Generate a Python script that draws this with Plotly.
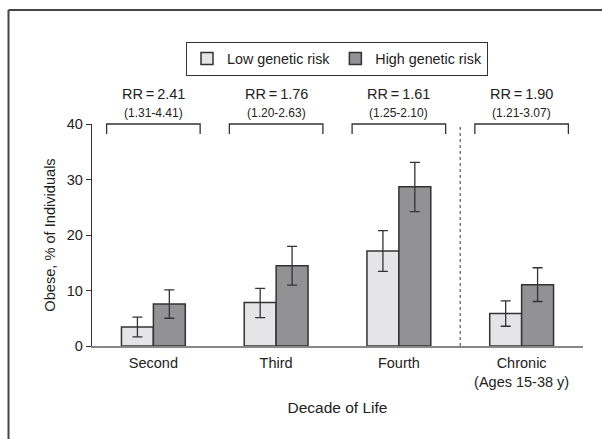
import plotly.graph_objects as go

categories = ["Second", "Third", "Fourth", "Chronic<br>(Ages 15-38 y)"]
low_vals = [3.43, 7.84, 17.1, 5.85]
low_err_plus = [1.76, 2.56, 3.7, 2.28]
low_err_minus = [1.80, 2.71, 3.66, 2.29]
high_vals = [7.59, 14.45, 28.7, 11.02]
high_err_plus = [2.51, 3.51, 4.4, 3.08]
high_err_minus = [2.59, 3.48, 4.5, 3.0]
rr_labels = ["RR\u2009=\u20092.41", "RR\u2009=\u20091.76", "RR\u2009=\u20091.61", "RR\u2009=\u20091.90"]
ci_labels = ["(1.31-4.41)", "(1.20-2.63)", "(1.25-2.10)", "(1.21-3.07)"]
y_ticks = [0, 10, 20, 30, 40]

W, H = 602, 439
L, R, T, B = 92, 19, 124, 93
FONT = "Liberation Sans Narrow, Arial Narrow, Liberation Sans, Arial, sans-serif"
TXT = "#222222"

def px_x(px):
    return (px - L) / (W - L - R)

def px_y(py):
    return (H - B - py) / (H - T - B)

xpos = list(range(len(categories)))

fig = go.Figure()
fig.add_trace(go.Bar(
    x=xpos, y=low_vals, name="Low genetic risk",
    marker=dict(color="#e5e5e7", line=dict(color="#333333", width=1.5)),
    error_y=dict(type="data", symmetric=False, array=low_err_plus, arrayminus=low_err_minus,
                 color="#333333", thickness=1.3, width=5),
))
fig.add_trace(go.Bar(
    x=xpos, y=high_vals, name="High genetic risk",
    marker=dict(color="#929295", line=dict(color="#333333", width=1.5)),
    error_y=dict(type="data", symmetric=False, array=high_err_plus, arrayminus=high_err_minus,
                 color="#333333", thickness=1.3, width=5),
))

shapes = []
annotations = []
half = 0.381
leg = 10 / (H - T - B)
for i in xpos:
    shapes.append(dict(type="path", xref="x", yref="paper",
                       path=f"M {i-half},{1-leg} L {i-half},1 L {i+half},1 L {i+half},{1-leg}",
                       line=dict(color="#333333", width=1.3)))
    annotations.append(dict(x=i, y=px_y(94.5), xref="x", yref="paper", text=rr_labels[i],
                            showarrow=False, font=dict(family=FONT, size=14.5, color=TXT),
                            xanchor="center", yanchor="middle"))
    annotations.append(dict(x=i, y=px_y(112.5), xref="x", yref="paper", text=ci_labels[i],
                            showarrow=False, font=dict(family=FONT, size=12, color=TXT),
                            xanchor="center", yanchor="middle"))

# dotted separator between decades and chronic
shapes.append(dict(type="line", xref="x", yref="y", x0=2.5, x1=2.5, y0=0, y1=40,
                   line=dict(color="#666666", width=1.3, dash="dot")))
# outer frame (top and left edges)
shapes.append(dict(type="line", xref="paper", yref="paper", x0=px_x(8.5), x1=px_x(602),
                   y0=px_y(10), y1=px_y(10), line=dict(color="#444444", width=2)))
shapes.append(dict(type="line", xref="paper", yref="paper", x0=px_x(8.5), x1=px_x(8.5),
                   y0=px_y(10), y1=px_y(439), line=dict(color="#444444", width=2)))

fig.update_layout(
    width=W, height=H,
    margin=dict(l=L, r=R, t=T, b=B, autoexpand=False),
    paper_bgcolor="white", plot_bgcolor="white",
    barmode="group", bargap=0.48, bargroupgap=0,
    font=dict(family=FONT, size=14.5, color=TXT),
    showlegend=True,
    legend=dict(orientation="h", x=px_x(337), xanchor="center", y=px_y(41.7), yanchor="top",
                bordercolor="#333333", borderwidth=1, font=dict(family=FONT, size=14.3, color=TXT),
                bgcolor="white"),
    shapes=shapes, annotations=annotations,
    xaxis=dict(range=[-0.5, 3.5], tickvals=xpos, ticktext=categories, showline=True,
               linecolor="#888888", linewidth=2, ticks="", showgrid=False, zeroline=False,
               ticklabelstandoff=3,
               tickfont=dict(family=FONT, size=14.5, color=TXT),
               title=dict(text="Decade of Life", standoff=13, font=dict(family=FONT, size=15.5, color=TXT))),
    yaxis=dict(range=[0, 40], tickvals=y_ticks, showline=True, linecolor="#333333", linewidth=1.3,
               ticks="outside", ticklen=5, tickcolor="#333333", tickwidth=1.3, showgrid=False,
               zeroline=False, tickfont=dict(family=FONT, size=14.5, color=TXT),
               title=dict(text="Obese, % of Individuals", standoff=7,
                          font=dict(family=FONT, size=14.6, color=TXT))),
)

fig.write_html("out.html")
